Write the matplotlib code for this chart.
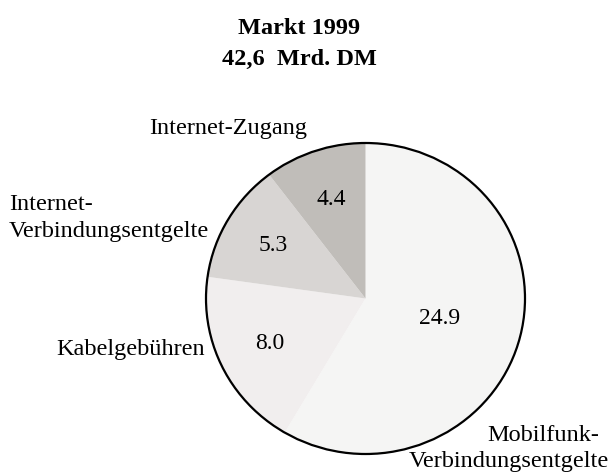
import matplotlib
matplotlib.use('Agg')
import matplotlib.pyplot as plt
from matplotlib.patches import Circle

# market segments, clockwise from the top
segments = ['Mobilfunk-Verbindungsentgelte', 'Kabelgebühren',
            'Internet-Verbindungsentgelte', 'Internet-Zugang']
values = [24.9, 8.0, 5.3, 4.4]
colors = ['#f5f5f4', '#f1eeee', '#d8d5d3', '#c0bdb9']
title_lines = ['Markt 1999', '42,6  Mrd. DM']

plt.rcParams['font.family'] = ['Liberation Serif', 'DejaVu Serif']

fig = plt.figure(figsize=(6.11, 4.73), dpi=100)

# background axes in pixel units, used for the free text
bg = fig.add_axes([0, 0, 1, 1])
bg.set_xlim(0, 611)
bg.set_ylim(473, 0)
bg.axis('off')

# pie axes (the original pie is very slightly squashed)
ax = fig.add_axes([206 / 611, 19 / 473, 319 / 611, 311 / 473])
ax.patch.set_alpha(0)
total = sum(values)
wedges, texts, autotexts = ax.pie(
    values, colors=colors, startangle=90, counterclock=False,
    autopct=lambda p: f'{p * total / 100:.1f}', pctdistance=0.67,
    textprops={'fontsize': 17, 'color': 'black'})
ax.set_aspect('auto')
ax.set_xlim(-1, 1)
ax.set_ylim(-1, 1)
ax.add_patch(Circle((0, 0), 1, fill=False, ec='black', lw=1.6, clip_on=False))

# the big value sits closer to the centre
x, y = autotexts[0].get_position()
autotexts[0].set_position((x * 0.48 / 0.67, y * 0.48 / 0.67))

# title
bg.text(299, 34, title_lines[0], ha='center', va='baseline', fontsize=17.5, weight='bold')
bg.text(299, 65, title_lines[1], ha='center', va='baseline', fontsize=17.5, weight='bold')

# segment labels
fs = 17.5
bg.text(228, 134, 'Internet-Zugang', ha='center', va='baseline', fontsize=fs)
bg.text(9, 210, 'Internet-', ha='left', va='baseline', fontsize=fs)
bg.text(9, 237, 'Verbindungsentgelte', ha='left', va='baseline', fontsize=fs)
bg.text(205, 355, 'Kabelgebühren', ha='right', va='baseline', fontsize=fs)
bg.text(543, 441, 'Mobilfunk-', ha='center', va='baseline', fontsize=fs)
bg.text(609, 467, 'Verbindungsentgelte', ha='right', va='baseline', fontsize=fs)

fig.savefig('out.png', dpi=100)
